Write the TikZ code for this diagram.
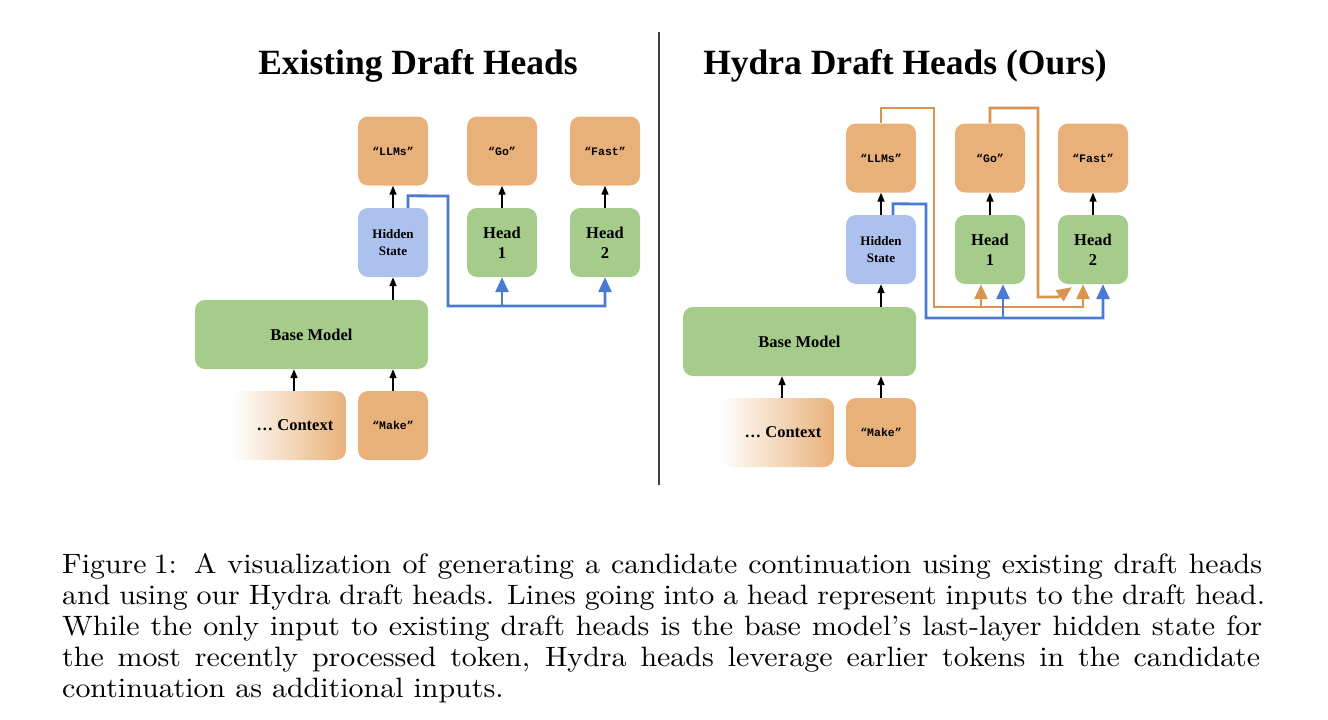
\documentclass[tikz,border=0pt]{standalone}
\usepackage{fontspec}
\setmainfont{Liberation Serif}
\newfontfamily\tokfont{Liberation Mono}
\newfontfamily\capfont[FakeStretch=1.07]{lmroman10-regular.otf}
\usetikzlibrary{arrows.meta,calc}
\definecolor{boxorange}{HTML}{E9B17A}
\definecolor{boxgreen}{HTML}{A5CC8A}
\definecolor{boxblue}{HTML}{ADC1EE}
\definecolor{lineblue}{HTML}{4A7AD4}
\definecolor{lineorange}{HTML}{DA9450}
\tikzset{
  box/.style={rounded corners=10pt, minimum width=70pt, minimum height=69pt, inner sep=0pt, align=center},
  tok/.style={box, fill=boxorange, font=\tokfont\bfseries\fontsize{11.5}{13}\selectfont},
  headbox/.style={box, fill=boxgreen, font=\bfseries\fontsize{16.5}{20}\selectfont},
  hidbox/.style={box, fill=boxblue, font=\bfseries\fontsize{13}{17}\selectfont},
  basebox/.style={box, fill=boxgreen, minimum width=233pt, font=\bfseries\fontsize{16.5}{20}\selectfont},
  ctxbox/.style={box, minimum width=114pt, left color=white, right color=boxorange, font=\bfseries\fontsize{16.5}{20}\selectfont},
  blk/.style={-{Triangle[width=7pt,length=9pt]}, line width=1.6pt, black},
  bl/.style={line width=2.8pt, lineblue},
  blarr/.style={bl, -{Triangle[width=13pt,length=15pt]}},
  orl/.style={line width=2.8pt, lineorange},
  orarr/.style={orl, -{Triangle[width=13pt,length=15pt]}},
  title/.style={anchor=base, inner sep=0pt, font=\bfseries\fontsize{35.5}{40}\selectfont},
  capline/.style={anchor=base west, inner sep=0pt, font=\capfont\fontsize{28}{31}\selectfont},
}
\newcommand\drawcommon{%
  \node[tok] (llm) at (393,151) {“LLMs”};
  \node[tok] (go) at (502,151) {“Go”};
  \node[tok] (fast) at (605,151) {“Fast”};
  \node[hidbox] (hid) at (393,242.5) {Hidden\\State};
  \node[headbox] (h1) at (502,242.5) {Head\\1};
  \node[headbox] (h2) at (605,242.5) {Head\\2};
  \node[basebox] (base) at (311.5,334.5) {Base Model};
  \node[ctxbox] (ctx) at (289,425.5) {\hspace*{12pt}… Context};
  \node[tok] (make) at (393,425.5) {“Make”};
  \coordinate (ctxtop) at ($(ctx.north)+(5,0)$);
  \draw[blk] (hid.north) -- (llm.south);
  \draw[blk] (h1.north) -- (go.south);
  \draw[blk] (h2.north) -- (fast.south);
  \draw[blk] (base.north -| hid.south) -- (hid.south);
  \draw[blk] (ctxtop) -- (ctxtop |- base.south);
  \draw[blk] (make.north) -- (make.north |- base.south);
}
\begin{document}
\begin{tikzpicture}[x=1pt,y=-1pt]
\useasboundingbox (0,0) rectangle (1328,720);
\fill[white] (0,0) rectangle (1328,720);

\node[title] (t1) at (418,74) {Existing Draft Heads};
\node[title] (t2) at (905,74) {Hydra Draft Heads (Ours)};
\draw[line width=1.1pt, black!75] (659,32) -- (659,485);

\begin{scope}[name prefix=L-]
  \drawcommon
\end{scope}
\begin{scope}[shift={(488,7)}, name prefix=R-]
  \drawcommon
\end{scope}

% left: hidden state to heads
\draw[blarr] ($(L-hid.north)+(15,0)$) -- ++(0,-12) -- (448,196) -- (448,306) -- (L-h2.south |- 0,306) -- (L-h2.south);
\draw[blarr] (L-h1.south |- 0,306) -- (L-h1.south);

% right: orange token feedback
\draw[orarr] (R-llm.north) -- (881,108) -- (934,108) -- (934,307) -- (1083,307) -- ($(R-h2.south)+(-10,0)$);
\draw[orarr] (981,307) -- ($(R-h1.south)+(-9,0)$);
\draw[orarr] (R-go.north) -- (990,108) -- (1038,108) -- (1038,297) -- (1058,297) -- ($(R-h2.south west)+(14,3)$);
% right: hidden state
\draw[blarr] ($(R-hid.north)+(12,0)$) -- ++(0,-11) -- (926,204) -- (926,318) -- (1103,318) -- ($(R-h2.south)+(10,0)$);
\draw[blarr] (1003,318) -- ($(R-h1.south)+(13,0)$);

% caption
\node[capline] (c1) at (62,573) {\makebox[1200pt][s]{Figure\kern7pt1:\kern17pt A visualization of generating a candidate continuation using existing draft heads}};
\node[capline] (c2) at (62,604) {\makebox[1203pt][s]{and using our Hydra draft heads. Lines going into a head represent inputs to the draft head.}};
\node[capline] (c3) at (62,635) {\makebox[1200pt][s]{While the only input to existing draft heads is the base model’s last-layer hidden state for}};
\node[capline] (c4) at (62,666) {\makebox[1198pt][s]{the most recently processed token, Hydra heads leverage earlier tokens in the candidate}};
\node[capline] (c5) at (62,697) {continuation as additional inputs.};
\end{tikzpicture}
\end{document}
